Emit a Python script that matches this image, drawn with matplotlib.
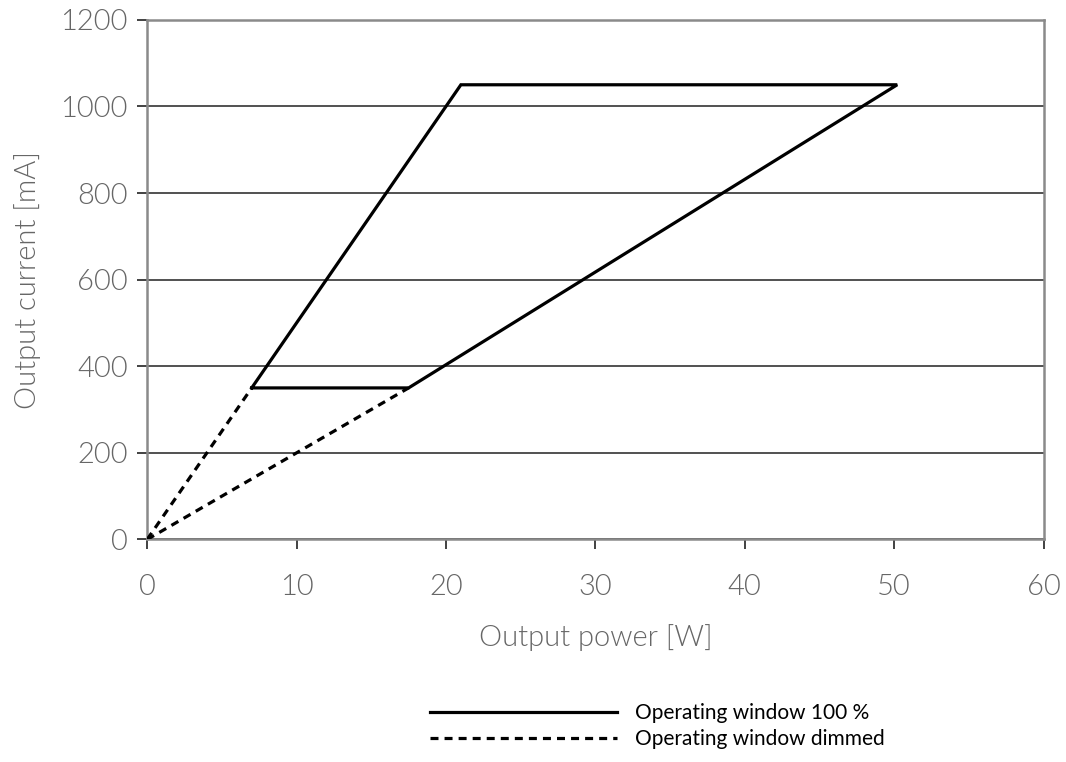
import matplotlib
matplotlib.use("Agg")
import matplotlib.pyplot as plt

# ── data ──────────────────────────────────────────────
# operating window 100 % (closed polygon)
window_power   = [7, 21, 50.2, 17.5, 7]
window_current = [350, 1050, 1050, 350, 350]

# dimmed range, from origin to the window corners
dim_upper_power   = [0, 7]
dim_upper_current = [0, 350]
dim_lower_power   = [0, 17.5]
dim_lower_current = [0, 350]

x_ticks = [0, 10, 20, 30, 40, 50, 60]
y_ticks = [0, 200, 400, 600, 800, 1000, 1200]

LABEL_GRAY = "#666666"
SPINE_GRAY = "#8a8a8a"

plt.rcParams["font.family"] = ["Lato", "DejaVu Sans"]
plt.rcParams["font.weight"] = 300

fig = plt.figure(figsize=(10.66, 7.62), dpi=100, facecolor="white")
ax = fig.add_axes([0.138, 0.292, 0.841, 0.682])

ax.plot(window_power, window_current, color="black", linewidth=2.3,
        solid_joinstyle="miter", label="Operating window 100 %", zorder=3)
ax.plot(dim_upper_power, dim_upper_current, color="black", linewidth=2.3,
        dashes=(2.5, 1.9), label="Operating window dimmed", zorder=3)
ax.plot(dim_lower_power, dim_lower_current, color="black", linewidth=2.3,
        dashes=(2.5, 1.9), zorder=3)

ax.set_xlim(x_ticks[0], x_ticks[-1])
ax.set_ylim(y_ticks[0], y_ticks[-1])
ax.set_xticks(x_ticks)
ax.set_yticks(y_ticks)

ax.grid(axis="y", color="#222222", linewidth=1.1)
ax.set_axisbelow(True)
for spine in ax.spines.values():
    spine.set_edgecolor(SPINE_GRAY)
    spine.set_linewidth(1.8)

ax.tick_params(axis="both", direction="out", length=7, width=1.3,
               color="#333333", labelcolor=LABEL_GRAY, labelsize=21)
ax.tick_params(axis="x", pad=18)
ax.tick_params(axis="y", pad=7)

ax.set_xlabel("Output power [W]", color=LABEL_GRAY, fontsize=21,
              fontweight=300, labelpad=17)
ax.set_ylabel("Output current [mA]", color=LABEL_GRAY, fontsize=21,
              fontweight=300, labelpad=14)

leg = fig.legend(loc="center left", bbox_to_anchor=(0.403, 0.047),
                 bbox_transform=fig.transFigure, frameon=False,
                 handlelength=9.0, handletextpad=0.85, labelspacing=0.3,
                 borderpad=0, borderaxespad=0,
                 prop={"family": ["Lato", "DejaVu Sans"], "size": 15,
                       "weight": "normal"})

fig.savefig("out.png", dpi=100, facecolor="white")
